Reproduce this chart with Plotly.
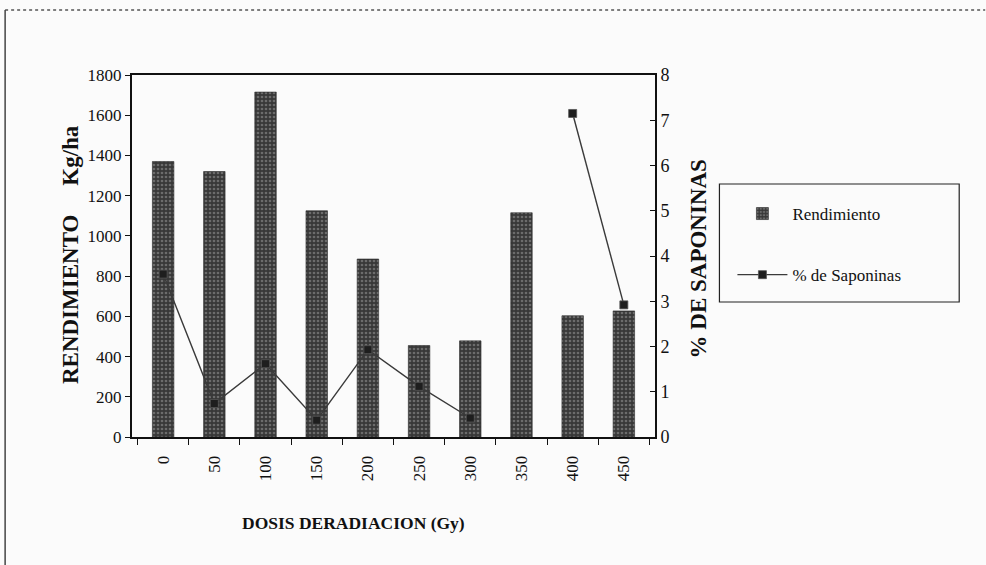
import plotly.graph_objects as go

# ---- data ----
dosis = ["0", "50", "100", "150", "200", "250", "300", "350", "400", "450"]
rendimiento = [1370, 1320, 1715, 1125, 885, 455, 478, 1115, 603, 627]
saponinas = [3.6, 0.74, 1.62, 0.37, 1.93, 1.12, 0.42, None, 7.15, 2.92]
left_ticks = [0, 200, 400, 600, 800, 1000, 1200, 1400, 1600, 1800]
right_ticks = [0, 1, 2, 3, 4, 5, 6, 7, 8]

FONT = "Liberation Serif"

# plot-area geometry in pixels (used to place paper-coordinate decorations)
W, H = 986, 565
L, R, T, B = 132, 655.5, 75, 437
pw, ph = R - L, B - T


def px(x):
    return (x - L) / pw


def py(y):
    return (B - y) / ph


fig = go.Figure()

fig.add_trace(go.Bar(
    x=dosis, y=rendimiento, name="Rendimiento",
    legendgroup="a",
    marker=dict(
        color="#3a3a3a",
        line=dict(color="#2a2a2a", width=0.6),
        pattern=dict(shape=".", fgcolor="#a0a0a0", bgcolor="#383838",
                     size=4, solidity=0.35, fillmode="overlay"),
    ),
    yaxis="y",
))

fig.add_trace(go.Scatter(
    x=dosis, y=saponinas, name="% de Saponinas",
    legendgroup="b",
    mode="lines+markers",
    connectgaps=False,
    line=dict(color="#3a3a3a", width=1.4),
    marker=dict(symbol="square", size=8, color="#1e1e1e",
                line=dict(color="#555555", width=0.8)),
    yaxis="y2",
))

fig.update_layout(
    width=W, height=H,
    margin=dict(l=L, r=W - R, t=T, b=H - B),
    paper_bgcolor="#fbfbfb",
    plot_bgcolor="#fbfbfb",
    font=dict(family=FONT, size=16, color="#111111"),
    bargap=0.58,
    showlegend=True,
    legend=dict(
        x=px(733), xanchor="left",
        y=py(196), yanchor="top",
        bgcolor="rgba(0,0,0,0)",
        borderwidth=0,
        font=dict(family=FONT, size=17, color="#111111"),
        tracegroupgap=36,
        itemwidth=50,
    ),
    xaxis=dict(
        type="category",
        showline=True, linecolor="#111111", linewidth=2,
        mirror=True,
        ticks="outside", ticklen=6, tickcolor="#111111", tickwidth=1.2,
        tickson="boundaries",
        tickangle=-90,
        ticklabelstandoff=10,
        tickfont=dict(family=FONT, size=17),
        showgrid=False, zeroline=False,
    ),
    yaxis=dict(
        range=[0, 1800],
        tickvals=left_ticks,
        showline=True, linecolor="#111111", linewidth=2,
        ticks="outside", ticklen=5, tickcolor="#111111",
        tickfont=dict(family=FONT, size=17),
        showgrid=False, zeroline=False,
    ),
    yaxis2=dict(
        range=[0, 8],
        tickvals=right_ticks,
        overlaying="y", side="right",
        showline=True, linecolor="#111111", linewidth=2,
        ticks="inside", ticklen=5, tickcolor="#111111",
        tickfont=dict(family=FONT, size=18),
        showgrid=False, zeroline=False,
    ),
)

annotations = [
    dict(text="<b>RENDIMIENTO\u00a0\u00a0\u00a0\u00a0\u00a0Kg/ha</b>", textangle=-90,
         xref="paper", yref="paper", x=px(71), y=py(255),
         xanchor="center", yanchor="middle",
         showarrow=False, font=dict(family=FONT, size=23, color="#111111")),
    dict(text="<b>% DE SAPONINAS</b>", textangle=-90,
         xref="paper", yref="paper", x=px(699), y=py(259),
         xanchor="center", yanchor="middle",
         showarrow=False, font=dict(family=FONT, size=23, color="#111111")),
    dict(text="<b>DOSIS DERADIACION (Gy)</b>",
         xref="paper", yref="paper", x=px(354), y=py(523),
         xanchor="center", yanchor="middle",
         showarrow=False, font=dict(family=FONT, size=17.5, color="#111111")),
]
fig.update_layout(annotations=annotations)

shapes = [
    # legend box
    dict(type="rect", xref="paper", yref="paper",
         x0=px(720), x1=px(960), y0=py(302), y1=py(184),
         line=dict(color="#222222", width=1.2), fillcolor="rgba(0,0,0,0)",
         layer="below"),
    # outer chart frame (top and left edges)
    dict(type="line", xref="paper", yref="paper",
         x0=px(5), x1=px(986), y0=py(10), y1=py(10),
         line=dict(color="#555555", width=1.5, dash="dot")),
    dict(type="line", xref="paper", yref="paper",
         x0=px(5), x1=px(5), y0=py(10), y1=py(565),
         line=dict(color="#444444", width=1.5)),
]
fig.update_layout(shapes=shapes)

fig.write_html("out.html")
